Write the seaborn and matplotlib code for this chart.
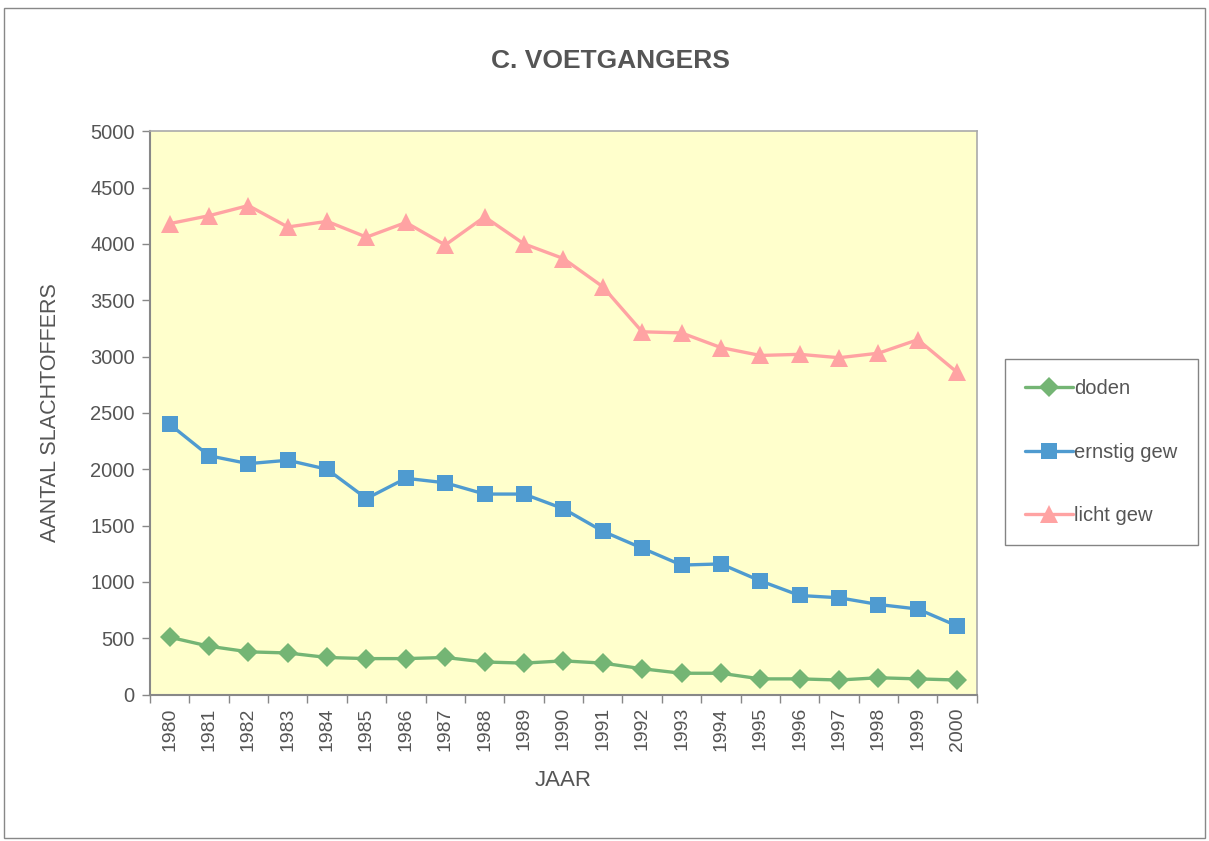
import pandas as pd
import numpy as np
import matplotlib.pyplot as plt
import seaborn as sns
from matplotlib.patches import Rectangle
from matplotlib.ticker import MultipleLocator

years = list(range(1980, 2001))
doden = [510, 430, 380, 370, 330, 320, 320, 330, 290, 280, 300,
         280, 230, 190, 190, 140, 140, 130, 150, 140, 130]
ernstig_gew = [2400, 2120, 2050, 2080, 2000, 1740, 1920, 1880, 1780, 1780, 1650,
               1450, 1300, 1150, 1160, 1010, 880, 860, 800, 760, 610]
licht_gew = [4180, 4250, 4340, 4150, 4200, 4060, 4190, 3990, 4240, 4000, 3870,
             3620, 3220, 3210, 3080, 3010, 3020, 2990, 3030, 3150, 2860]
series_names = ["doden", "ernstig gew", "licht gew"]

df = pd.DataFrame({"JAAR": years, "doden": doden,
                   "ernstig gew": ernstig_gew, "licht gew": licht_gew})
long_df = df.melt(id_vars="JAAR", var_name="serie", value_name="aantal")

sns.set_style("white")
plt.rcParams['font.family'] = ['Liberation Sans', 'DejaVu Sans']

palette = {"doden": "#74B574", "ernstig gew": "#4F9BD0", "licht gew": "#FFA3A3"}
markers = {"doden": "D", "ernstig gew": "s", "licht gew": "^"}
sizes = {"doden": 10, "ernstig gew": 11.5, "licht gew": 12.5}
text_col = "#555555"

fig = plt.figure(figsize=(12.09, 8.41), dpi=100)
ax = fig.add_axes([0.124, 0.174, 0.684, 0.670])
ax.set_facecolor("#FFFFCC")

for name in series_names:
    sub = long_df[long_df["serie"] == name]
    sns.lineplot(data=sub, x="JAAR", y="aantal", ax=ax, color=palette[name],
                 marker=markers[name], markersize=sizes[name], linewidth=2.4,
                 markeredgewidth=0, label=name, legend=False)

ax.set_xlim(1979.5, 2000.5)
ax.set_ylim(0, 5000)
ax.yaxis.set_major_locator(MultipleLocator(500))
ax.set_xticks(years)
ax.set_xticklabels([str(y) for y in years], rotation=90)
ax.xaxis.set_minor_locator(MultipleLocator(1, offset=0.5))
ax.tick_params(axis="x", which="major", length=0, pad=9, labelsize=14, labelcolor=text_col)
ax.tick_params(axis="x", which="minor", length=6, width=1, color="#888888", direction="out", bottom=True)
ax.tick_params(axis="y", length=6, width=1, color="#888888", direction="out", left=True,
               labelsize=14.5, labelcolor=text_col, pad=5)

for side in ["top", "right"]:
    ax.spines[side].set_color("#AAAAAA")
    ax.spines[side].set_linewidth(1.2)
for side in ["left", "bottom"]:
    ax.spines[side].set_color("#888888")
    ax.spines[side].set_linewidth(1.5)

ax.set_xlabel("JAAR", fontsize=16, color=text_col, labelpad=14)
ax.set_ylabel("AANTAL SLACHTOFFERS", fontsize=15.5, color=text_col, labelpad=21)
fig.suptitle("C. VOETGANGERS", x=0.505, y=0.942, fontsize=19, fontweight="bold", color=text_col)

handles, labels = ax.get_legend_handles_labels()
leg = fig.legend(handles, labels, loc="upper left", bbox_to_anchor=(0.831, 0.573),
                 borderaxespad=0, frameon=True, fancybox=False, fontsize=14.5,
                 labelspacing=2.2, handlelength=2.4, handletextpad=0.05,
                 borderpad=1.0, labelcolor=text_col)
leg.get_frame().set_edgecolor("#666666")
leg.get_frame().set_linewidth(1.0)

fig.patches.append(Rectangle((0.003, 0.004), 0.994, 0.986, transform=fig.transFigure,
                             fill=False, edgecolor="#888888", linewidth=1.0))

fig.savefig("out.png", dpi=100)
